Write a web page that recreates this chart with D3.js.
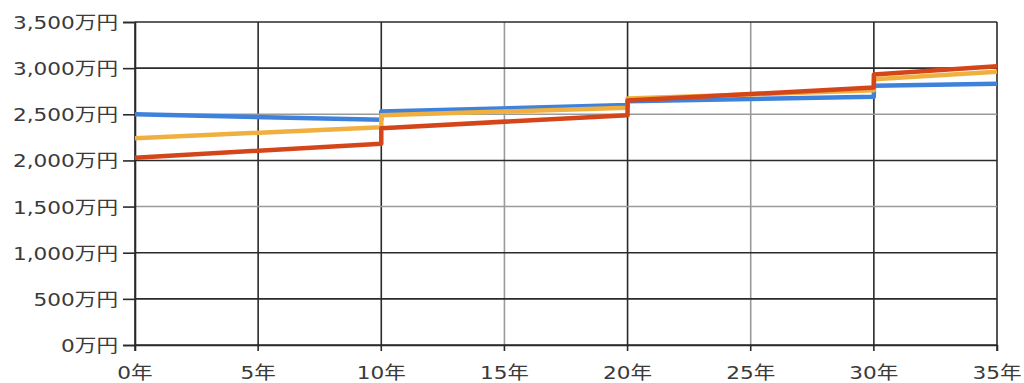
<!DOCTYPE html>
<html>
<head>
<meta charset="utf-8">
<script src="https://cdn.jsdelivr.net/npm/d3@7"></script>
<style>
  html, body { margin: 0; padding: 0; background: #fff; }
  svg { display: block; }
  text { font-family: "DejaVu Sans", "Noto Sans CJK JP", sans-serif; font-size: 18px; fill: #3a3a3a; }
</style>
</head>
<body>
<svg id="chart" width="1024" height="383"></svg>
<script>
// Years along the x axis; each step change is a pair of points at the same year
const years = [0, 10, 10, 20, 20, 30, 30, 35];
const blueSeries   = [2500, 2440, 2530, 2600, 2640, 2690, 2810, 2830];
const orangeSeries = [2240, 2360, 2490, 2570, 2670, 2760, 2880, 2960];
const redSeries    = [2030, 2180, 2350, 2490, 2650, 2790, 2930, 3020];

const xTicks = [0, 5, 10, 15, 20, 25, 30, 35];
const yTicks = [0, 500, 1000, 1500, 2000, 2500, 3000, 3500];
const xLightGrid = [15, 25];
const yLightGrid = [1500, 2500];

const svg = d3.select("#chart");
const x = d3.scaleLinear().domain([0, 35]).range([135, 997]);
const y = d3.scaleLinear().domain([0, 3500]).range([345, 22]);
const textScale = 1.2;

// grid
const grid = svg.append("g");
grid.selectAll("line.v").data(xTicks).join("line")
  .attr("x1", d => x(d)).attr("x2", d => x(d))
  .attr("y1", y(3500)).attr("y2", y(0))
  .attr("stroke", d => xLightGrid.includes(d) ? "#9a9a9a" : "#2a2a2a")
  .attr("stroke-width", 1.6);
grid.selectAll("line.h").data(yTicks).join("line")
  .attr("x1", x(0)).attr("x2", x(35))
  .attr("y1", d => y(d)).attr("y2", d => y(d))
  .attr("stroke", d => yLightGrid.includes(d) ? "#9a9a9a" : "#2a2a2a")
  .attr("stroke-width", 1.6);

// y axis
const yAxis = svg.append("g").attr("transform", `translate(${x(0)},0)`)
  .call(d3.axisLeft(y).tickValues(yTicks).tickSize(12)
    .tickFormat(d => d3.format(",")(d) + "万円"));
yAxis.select(".domain").attr("stroke", "#2a2a2a").attr("stroke-width", 1.6);
yAxis.selectAll(".tick line").attr("stroke", "#2a2a2a").attr("stroke-width", 1.6);
yAxis.selectAll(".tick text")
  .attr("font-size", null).attr("font-family", null)
  .attr("x", -17 / textScale).attr("dy", "0.36em")
  .attr("transform", `scale(${textScale},1)`)
  .style("fill", "#3a3a3a");

// x axis
const xAxis = svg.append("g").attr("transform", `translate(0,${y(0)})`)
  .call(d3.axisBottom(x).tickValues(xTicks).tickSize(6)
    .tickFormat(d => d + "年"));
xAxis.select(".domain").attr("stroke", "#2a2a2a").attr("stroke-width", 1.6);
xAxis.selectAll(".tick line").attr("stroke", "#2a2a2a").attr("stroke-width", 1.6);
xAxis.selectAll(".tick text")
  .attr("font-size", null).attr("font-family", null)
  .attr("y", 0).attr("dy", 34)
  .attr("transform", `scale(${textScale},1)`)
  .style("fill", "#3a3a3a");
// keep x labels centred on their ticks after horizontal scaling
xAxis.selectAll(".tick").each(function(d) {
  const t = d3.select(this);
  t.attr("transform", `translate(${x(d)},0)`);
});
xAxis.attr("font-size", null).attr("font-family", null);
yAxis.attr("font-size", null).attr("font-family", null);

// series lines
const line = d3.line().x((d, i) => x(years[i])).y(d => y(d));
const series = [
  { values: blueSeries, color: "#3f82dc" },
  { values: orangeSeries, color: "#f0b040" },
  { values: redSeries, color: "#d4461a" }
];
svg.append("g").selectAll("path").data(series).join("path")
  .attr("d", d => line(d.values))
  .attr("fill", "none")
  .attr("stroke", d => d.color)
  .attr("stroke-width", 4.5)
  .attr("stroke-linejoin", "round");
</script>
</body>
</html>
